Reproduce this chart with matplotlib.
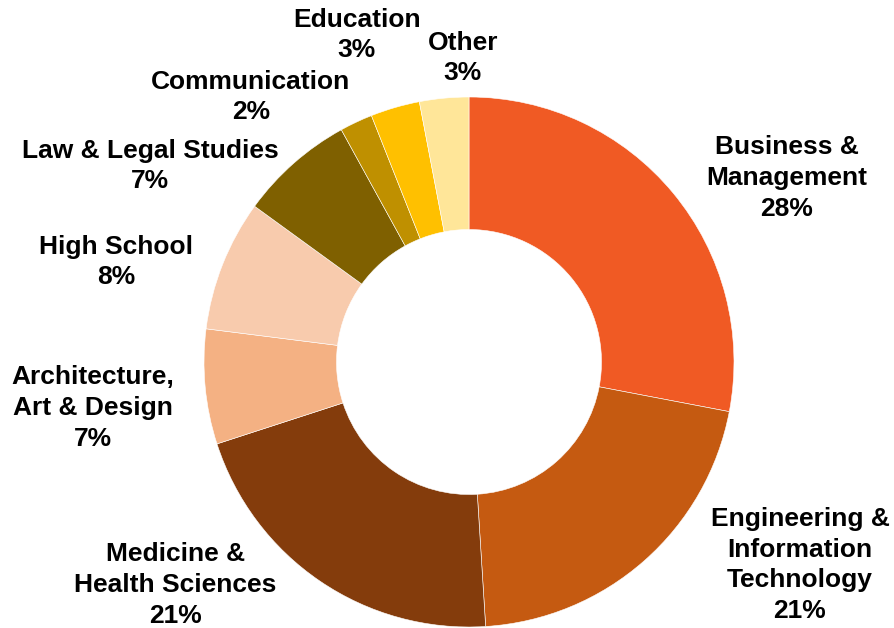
import matplotlib
matplotlib.use("Agg")
import matplotlib.pyplot as plt

plt.rcParams['font.family'] = ['Liberation Sans', 'DejaVu Sans']

categories = [
    "Business &\nManagement",
    "Engineering &\nInformation\nTechnology",
    "Medicine &\nHealth Sciences",
    "Architecture,\nArt & Design",
    "High School",
    "Law & Legal Studies",
    "Communication",
    "Education",
    "Other",
]
shares = [28, 21, 21, 7, 8, 7, 2, 3, 3]

colors = ["#F05A24", "#C55A11", "#843C0C", "#F4B183", "#F8CBAD",
          "#7F6000", "#BF9000", "#FFC000", "#FFE699"]

# label anchor points, in units of the outer radius
label_xy = [(1.20, 0.694), (1.249, -0.766), (-1.109, -0.842),
            (-1.419, -0.174), (-1.332, 0.377), (-1.204, 0.740),
            (-0.823, 1.0), (-0.423, 1.234), (-0.023, 1.147)]

fig = plt.figure(figsize=(8.94, 6.28), dpi=100)
ax = fig.add_axes([0, 0, 1, 1])

ax.pie(shares, colors=colors, startangle=90, counterclock=False,
       radius=1.0, wedgeprops=dict(width=0.5, edgecolor="white", linewidth=0.4))

for name, val, (x, y) in zip(categories, shares, label_xy):
    ax.text(x, y, f"{name}\n{val}%", ha="center", va="center",
            fontsize=19, fontweight="bold", color="black", linespacing=1.35)

ax.set_xlim(-469 / 265, (894 - 469) / 265)
ax.set_ylim(-(628 - 362) / 265, 362 / 265)
ax.set_aspect("equal")
ax.axis("off")

fig.savefig("out.png", dpi=100)
